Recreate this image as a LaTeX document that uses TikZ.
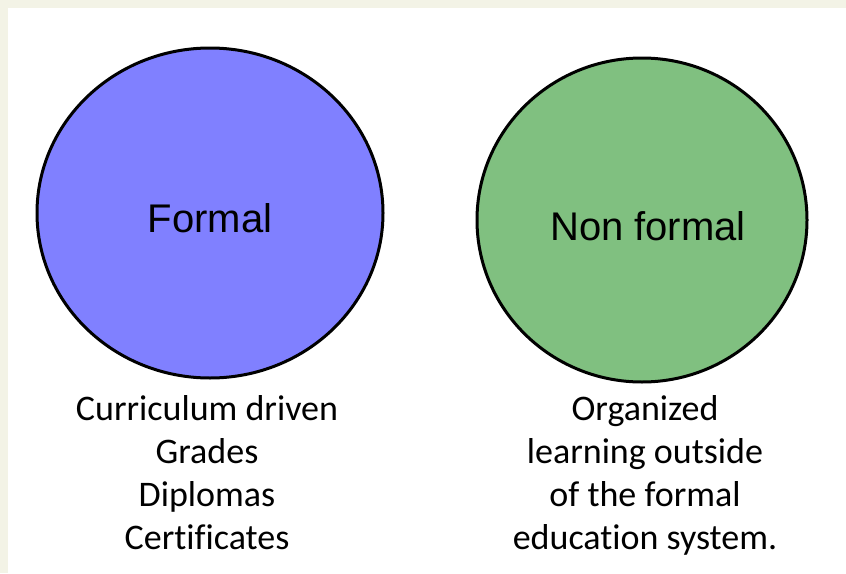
\documentclass[tikz,border=0pt]{standalone}
\usepackage{fontspec}
\setmainfont{Carlito}[Ligatures=NoCommon]
\newfontfamily\arialfont{Liberation Sans}
\usetikzlibrary{shapes.geometric}

\definecolor{frameback}{RGB}{243,243,230}
\definecolor{formalblue}{RGB}{128,128,255}
\definecolor{nonformalgreen}{RGB}{128,192,128}

\tikzset{
  bubble/.style={shape=ellipse, draw=black, line width=3pt, inner sep=0pt},
  bubbletext/.style={font=\arialfont\fontsize{40}{48}\selectfont},
  notes/.style={align=center, inner sep=0pt, anchor=north,
    font=\fontsize{36}{43}\selectfont}
}

\begin{document}
\begin{tikzpicture}[x=1pt,y=-1pt]
    \useasboundingbox (0,0) rectangle (846,573);
    \fill[frameback] (0,0) rectangle (846,573);
    \fill[white] (8,8) rectangle (846,573);

    \node[bubble, fill=formalblue, minimum width=346pt, minimum height=330pt] (F) at (210,213) {};
    \node[bubble, fill=nonformalgreen, minimum width=330pt, minimum height=324pt] (N) at (642,220) {};

    \node[bubbletext] (Ft) at ([yshift=-5pt]F.center) {Formal};
    \node[bubbletext] (Nt) at ([xshift=6pt,yshift=-6pt]N.center) {Non formal};

    \node[notes] (Fnotes) at (207,395) {Curriculum driven\\Grades\\Diplomas\\Certificates};
    \node[notes] (Nnotes) at (645,395) {Organized\\learning outside\\of the formal\\education system.};

\end{tikzpicture}
\end{document}
